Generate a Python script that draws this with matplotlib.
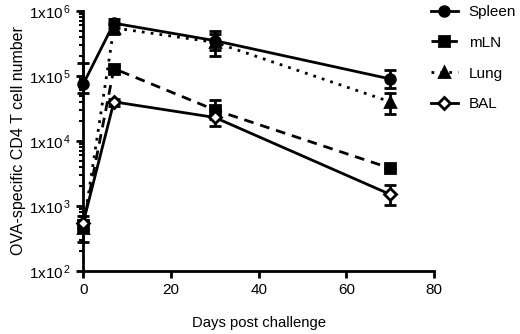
import numpy as np
import matplotlib.pyplot as plt
from matplotlib.lines import Line2D
from matplotlib.ticker import LogLocator, FixedLocator, NullFormatter

plt.rcParams['font.family'] = ['Liberation Sans', 'DejaVu Sans']
plt.rcParams['mathtext.default'] = 'regular'

# dias post challenge
days = [0, 7, 30, 70]

# celulas CD4 especificas de OVA: media, limite superior e inferior
spleen = [7.5e4, 6.5e5, 3.5e5, 9.0e4]
spleen_hi = [1.6e5, 7.5e5, 5.0e5, 1.25e5]
spleen_lo = [5.5e4, 5.5e5, 2.0e5, 6.5e4]

mln = [5.0e2, 1.3e5, 3.0e4, 3.8e3]
mln_hi = [6.0e2, 1.4e5, 4.2e4, 3.9e3]
mln_lo = [4.0e2, 1.2e5, 2.2e4, 3.7e3]

lung = [4.5e2, 5.5e5, 3.3e5, 4.0e4]
lung_hi = [5.5e2, 6.2e5, 4.5e5, 5.5e4]
lung_lo = [2.8e2, 4.5e5, 2.5e5, 2.6e4]

bal = [5.5e2, 4.0e4, 2.3e4, 1.5e3]
bal_hi = [7.0e2, 4.5e4, 3.0e4, 2.1e3]
bal_lo = [4.5e2, 3.5e4, 1.7e4, 1.05e3]

series = [
    ('Spleen', spleen, spleen_lo, spleen_hi, '-', 'o', 'k'),
    ('mLN', mln, mln_lo, mln_hi, (0, (3.5, 2.5)), 's', 'k'),
    ('Lung', lung, lung_lo, lung_hi, (0, (1, 2.2)), '^', 'k'),
    ('BAL', bal, bal_lo, bal_hi, '-', 'D', 'white'),
]

fig = plt.figure(figsize=(5.2, 3.34), dpi=100)
ax = fig.add_axes([0.160, 0.189, 0.675, 0.778])

handles = []
for nombre, y, lo, hi, ls, mk, fc in series:
    y = np.array(y)
    err = [y - np.array(lo), np.array(hi) - y]
    ms = 7 if mk != 'D' else 6.5
    ax.errorbar(days, y, yerr=err, color='k', ls=ls, lw=2, marker=mk,
                ms=ms, mfc=fc, mec='k', mew=2,
                elinewidth=2, capsize=4, capthick=2,
                clip_on=False, zorder=3)
    handles.append(Line2D([], [], color='k', ls=ls, lw=2, marker=mk, ms=ms,
                          mfc=fc, mec='k', mew=2, label=nombre))

ax.set_yscale('log')
ax.set_ylim(1e2, 1e6)
ax.set_xlim(0, 80)
ax.set_xticks([0, 20, 40, 60, 80])
ax.yaxis.set_major_locator(FixedLocator([1e2, 1e3, 1e4, 1e5, 1e6]))
ax.set_yticklabels([r'1x10$^{\,%d}$' % e for e in range(2, 7)])
ax.yaxis.set_minor_locator(LogLocator(base=10, subs=np.arange(2, 10)))
ax.yaxis.set_minor_formatter(NullFormatter())

for s in ['top', 'right']:
    ax.spines[s].set_visible(False)
for s in ['left', 'bottom']:
    ax.spines[s].set_linewidth(2)

ax.tick_params(axis='both', which='major', width=2, length=5, labelsize=11)
ax.tick_params(axis='y', which='minor', width=1.5, length=3)

ax.set_xlabel('Days post challenge', fontsize=10.7, labelpad=14)
ax.set_ylabel('OVA-specific CD4 T cell number', fontsize=11.5, labelpad=2)

ax.legend(handles=handles, loc='upper left', bbox_to_anchor=(0.828, 0.985),
          bbox_transform=fig.transFigure, frameon=False, fontsize=11,
          handlelength=1.8, handletextpad=0.7, labelspacing=1.1,
          borderaxespad=0, borderpad=0)

fig.savefig('out.png', dpi=100)
